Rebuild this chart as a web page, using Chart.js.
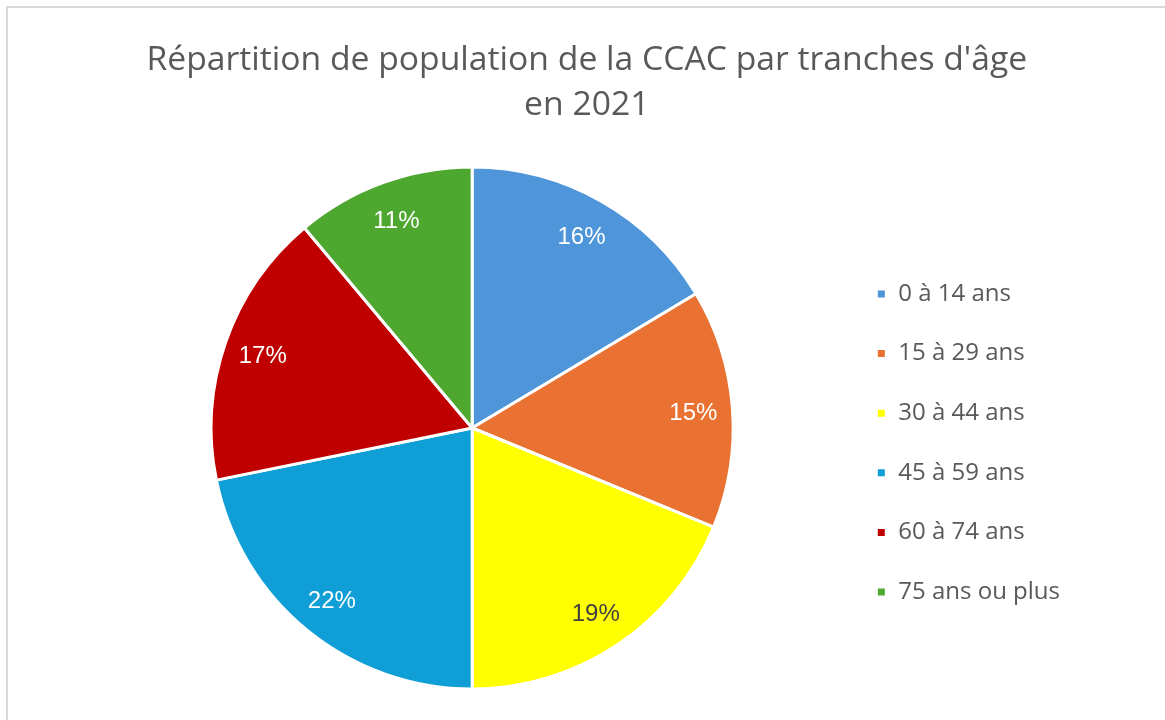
<!DOCTYPE html>
<html>
<head>
<meta charset="utf-8">
<script src="https://cdn.jsdelivr.net/npm/chart.js@4.4.1/dist/chart.umd.min.js"></script>
<style>
  html, body { margin: 0; padding: 0; background: #ffffff; overflow: hidden; }
  #frame { position: absolute; left: 6px; top: 6px; width: 1200px; height: 800px; border: 2px solid #d9d9d9; box-sizing: border-box; }
  #wrap { position: absolute; left: 7px; top: 7px; width: 1160px; height: 713px; }
</style>
</head>
<body>
<div id="frame"></div>
<div id="wrap"><canvas id="c" width="1160" height="713"></canvas></div>
<script>
const titleLines = ["Répartition de population de la CCAC par tranches d'âge", "en 2021"];
const categories = ["0 à 14 ans", "15 à 29 ans", "30 à 44 ans", "45 à 59 ans", "60 à 74 ans", "75 ans ou plus"];
const shares = [16.4, 14.8, 18.8, 21.8, 17.1, 11.1];
const colors = ["#4E95D9", "#E97132", "#FFFF00", "#0F9ED5", "#C00000", "#4EA72E"];
const labelColors = ["#ffffff", "#ffffff", "#404040", "#ffffff", "#ffffff", "#ffffff"];

const pieLabels = {
  id: 'pieLabels',
  afterDatasetsDraw(chart) {
    const ctx = chart.ctx;
    const meta = chart.getDatasetMeta(0);
    const data = chart.data.datasets[0].data;
    const total = data.reduce((a, b) => a + b, 0);
    ctx.save();
    ctx.font = '24px "Liberation Sans", Arial, sans-serif';
    ctx.textAlign = 'center';
    ctx.textBaseline = 'middle';
    meta.data.forEach((arc, i) => {
      const p = arc.getProps(['x', 'y', 'startAngle', 'endAngle', 'outerRadius'], true);
      const a = (p.startAngle + p.endAngle) / 2;
      const r = p.outerRadius * 0.85;
      ctx.fillStyle = labelColors[i];
      ctx.fillText(Math.round(data[i] / total * 100) + '%', p.x + Math.cos(a) * r, p.y + Math.sin(a) * r + 2);
    });
    ctx.restore();
  }
};

new Chart(document.getElementById('c'), {
  type: 'pie',
  data: {
    labels: categories,
    datasets: [{
      data: shares,
      backgroundColor: colors,
      borderColor: '#ffffff',
      borderWidth: 3
    }]
  },
  options: {
    responsive: false,
    animation: false,
    layout: { padding: { left: 96.6, right: 97, top: 0, bottom: 29.5 } },
    plugins: {
      tooltip: { enabled: false },
      title: {
        display: true,
        text: titleLines,
        color: '#595959',
        font: { family: '"Open Sans", sans-serif', size: 33.7, weight: 'normal', lineHeight: 1.335 },
        padding: { top: 31, bottom: 37.5 }
      },
      legend: {
        position: 'right',
        align: 'center',
        title: { display: true, text: ' ', font: { size: 10, lineHeight: 1.2 }, padding: { top: 176.5, bottom: 0 } },
        labels: {
          color: '#595959',
          font: { family: '"Open Sans", sans-serif', size: 24 },
          boxWidth: 10,
          boxHeight: 10,
          padding: 35.6
        }
      }
    }
  },
  plugins: [pieLabels]
});
</script>
</body>
</html>
